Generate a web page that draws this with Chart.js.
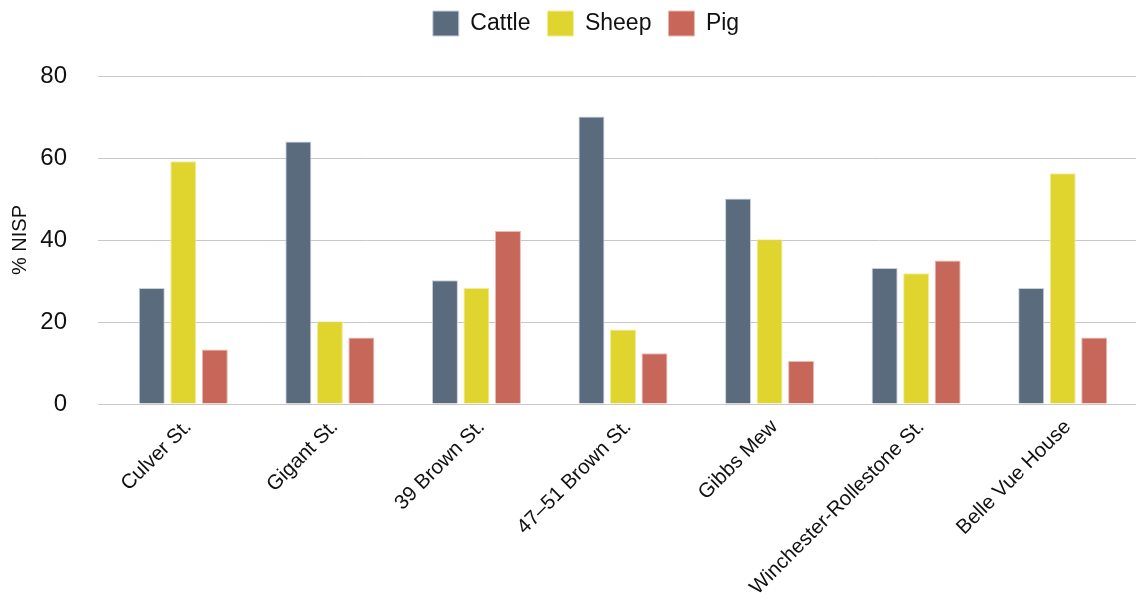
<!DOCTYPE html>
<html lang="en">
<head>
    <meta charset="UTF-8">
    <title>% NISP by site</title>
    <style>
        body {
            margin: 0;
            background: #ffffff;
        }
        #wrap {
            width: 1136px;
            height: 601px;
        }
    </style>
</head>
<body>
    <div id="wrap"><canvas id="nispChart"></canvas></div>
    <script src="https://cdn.jsdelivr.net/npm/chart.js"></script>
    <script>
        // Data
        const sites = ['Culver St.', 'Gigant St.', '39 Brown St.', '47\u201351 Brown St.', 'Gibbs Mew', 'Winchester-Rollestone St.', 'Belle Vue House'];
        const cattle = [28.3, 64.0, 30.2, 70.1, 50.1, 33.2, 28.3];
        const sheep = [59.2, 20.2, 28.3, 18.2, 40.2, 31.9, 56.3];
        const pig = [13.3, 16.2, 42.2, 12.4, 10.5, 35.0, 16.2];
        const yTicks = [0, 20, 40, 60, 80];

        const font = "'Liberation Sans', Arial, sans-serif";

        // nudge the legend into the same spot as the original figure
        const legendNudge = {
            id: 'legendNudge',
            afterLayout(chart) {
                const lg = chart.legend;
                lg.top -= 30;
                lg.bottom -= 30;
                lg.left += 18;
                lg.right += 18;
            }
        };

        const ctx = document.getElementById('nispChart').getContext('2d');
        const nispChart = new Chart(ctx, {
            type: 'bar',
            data: {
                labels: sites,
                datasets: [
                    { label: 'Cattle', data: cattle, backgroundColor: '#5a6b7d', borderColor: '#c9d0d8' },
                    { label: 'Sheep', data: sheep, backgroundColor: '#e0d52e', borderColor: '#f2ec9c' },
                    { label: 'Pig', data: pig, backgroundColor: '#c76759', borderColor: '#eab9b2' }
                ]
            },
            options: {
                responsive: true,
                maintainAspectRatio: false,
                animation: false,
                datasets: {
                    bar: {
                        borderWidth: 1,
                        categoryPercentage: 0.645,
                        barPercentage: 0.825
                    }
                },
                layout: {
                    padding: { top: 24, right: 0, left: 0, bottom: 0 }
                },
                plugins: {
                    legend: {
                        position: 'top',
                        labels: {
                            font: { family: font, size: 23 },
                            color: '#111',
                            boxWidth: 26,
                            boxHeight: 25,
                            padding: 17
                        }
                    },
                    tooltip: { enabled: false }
                },
                scales: {
                    x: {
                        afterFit: scale => { scale.height = 197; },
                        grid: { display: false },
                        border: { display: true, color: '#c8c8c8', width: 1 },
                        ticks: {
                            font: { family: font, size: 20.5 },
                            color: '#111',
                            minRotation: 45,
                            maxRotation: 45,
                            labelOffset: 5,
                            autoSkip: false
                        }
                    },
                    y: {
                        min: 0,
                        max: 80,
                        afterFit: scale => { scale.width = 110; },
                        afterBuildTicks: axis => {
                            axis.ticks = yTicks.map(v => ({ value: v }));
                        },
                        grid: { color: '#c8c8c8', tickLength: 12 },
                        border: { display: false },
                        title: {
                            display: true,
                            text: '% NISP',
                            font: { family: font, size: 20 },
                            color: '#111',
                            padding: { top: 8, bottom: 4 }
                        },
                        ticks: {
                            font: { family: font, size: 24 },
                            color: '#111',
                            padding: 31
                        }
                    }
                }
            },
            plugins: [legendNudge]
        });
    </script>
</body>
</html>
